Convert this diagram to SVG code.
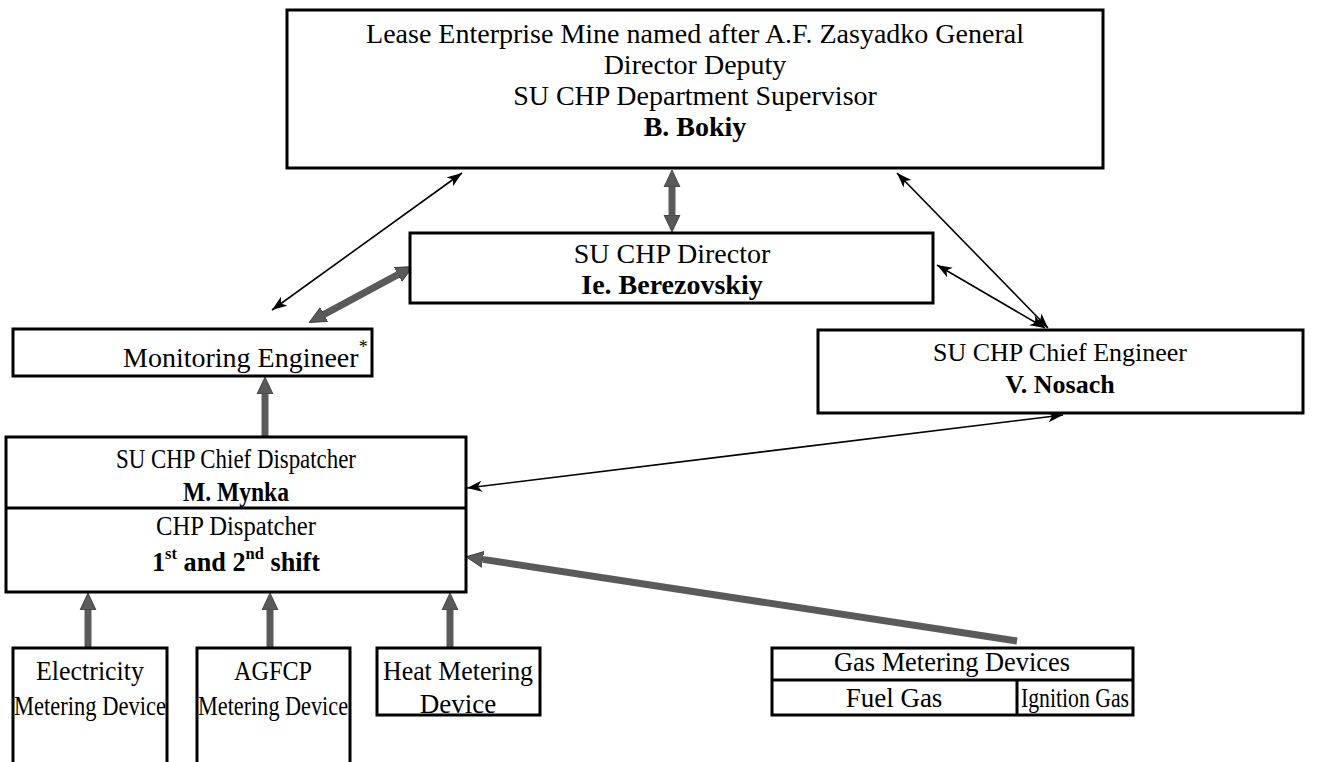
<svg xmlns="http://www.w3.org/2000/svg" width="1323" height="762" viewBox="0 0 1323 762">
<defs>
<style>
.box{fill:#fff;stroke:#000;stroke-width:3}
.t{font-family:"Liberation Serif","Times New Roman",serif;font-size:27px;fill:#000;text-anchor:middle}
.big{font-size:28px}
.mid{font-size:26px}
.b{font-weight:bold}
.thin{stroke:#000;stroke-width:1.6;fill:none;marker-start:url(#ah);marker-end:url(#ah)}
.thick{stroke:#5a5a5a;stroke-width:7;fill:none;marker-end:url(#th)}
.thick2{marker-start:url(#th)}
.div{stroke:#000;stroke-width:3}
</style>
<marker id="ah" viewBox="-15 -6 16 12" refX="0" refY="0" markerWidth="16" markerHeight="12" markerUnits="userSpaceOnUse" orient="auto-start-reverse">
<path d="M0,0 L-15,-5.5 L-11,0 L-15,5.5 z" fill="#000"/>
</marker>
<marker id="th" viewBox="0 -9 18 18" refX="0" refY="0" markerWidth="18" markerHeight="18" markerUnits="userSpaceOnUse" orient="auto-start-reverse">
<path d="M0,-8 L17,0 L0,8 z" fill="#5a5a5a" stroke="#333" stroke-width="0.8"/>
</marker>
</defs>
<rect width="1323" height="762" fill="#fff"/>
<g id="connectors">
<line class="thin" x1="462" y1="173" x2="272" y2="310"/>
<line class="thin" x1="897" y1="173" x2="1048" y2="328"/>
<line class="thin" x1="937" y1="265" x2="1045" y2="328"/>
<line class="thin" x1="1063" y1="415" x2="467" y2="488"/>
<line class="thick thick2" x1="672" y1="187" x2="672" y2="215"/>
<line class="thick thick2" x1="397.9" y1="274.6" x2="324.1" y2="314.4"/>
<line class="thick" x1="265" y1="437" x2="265" y2="394"/>
<line class="thick" x1="88" y1="648" x2="88" y2="610"/>
<line class="thick" x1="270" y1="648" x2="270" y2="610"/>
<line class="thick" x1="450" y1="648" x2="450" y2="610"/>
<line class="thick" x1="1017" y1="641" x2="482.8" y2="559.4"/>
</g>
<g id="top">
<rect class="box" x="287" y="10" width="816" height="158"/>
<text class="t big" x="695" y="43">Lease Enterprise Mine named after A.F. Zasyadko General</text>
<text class="t big" x="695" y="74">Director Deputy</text>
<text class="t big" x="695" y="105">SU CHP Department Supervisor</text>
<text class="t big b" x="695" y="136">B. Bokiy</text>
</g>
<g id="director">
<rect class="box" x="410" y="233" width="523" height="70"/>
<text class="t big" x="672" y="263">SU CHP Director</text>
<text class="t big b" x="672" y="294">Ie. Berezovskiy</text>
</g>
<g id="monitoring">
<rect class="box" x="13" y="329" width="359" height="47"/>
<text class="t big" x="123" y="367" style="text-anchor:start">Monitoring Engineer<tspan font-size="18" dy="-14">*</tspan></text>
</g>
<g id="chief-engineer">
<rect class="box" x="818" y="330" width="485" height="83"/>
<text class="t mid" x="1060" y="361">SU CHP Chief Engineer</text>
<text class="t mid b" x="1060" y="393">V. Nosach</text>
</g>
<g id="dispatcher">
<rect class="box" x="6" y="437" width="460" height="155"/>
<line class="div" x1="6" y1="508" x2="466" y2="508"/>
<text class="t" x="236" y="468" textLength="240" lengthAdjust="spacingAndGlyphs">SU CHP Chief Dispatcher</text>
<text class="t b" x="236" y="501" textLength="106" lengthAdjust="spacingAndGlyphs">M. Mynka</text>
<text class="t" x="236" y="535" textLength="160" lengthAdjust="spacingAndGlyphs">CHP Dispatcher</text>
<text class="t b" x="236" y="571" textLength="168" lengthAdjust="spacingAndGlyphs">1<tspan font-size="17" dy="-12">st</tspan><tspan dy="12"> and 2</tspan><tspan font-size="17" dy="-12">nd</tspan><tspan dy="12"> shift</tspan></text>
</g>
<g id="electricity">
<rect class="box" x="13" y="648" width="154" height="130"/>
<text class="t" x="90" y="680" textLength="108" lengthAdjust="spacingAndGlyphs">Electricity</text>
<text class="t" x="90" y="715" textLength="152" lengthAdjust="spacingAndGlyphs">Metering Device</text>
</g>
<g id="agfcp">
<rect class="box" x="197" y="648" width="153" height="130"/>
<text class="t" x="273" y="680" textLength="78" lengthAdjust="spacingAndGlyphs">AGFCP</text>
<text class="t" x="273" y="715" textLength="150" lengthAdjust="spacingAndGlyphs">Metering Device</text>
</g>
<g id="heat">
<rect class="box" x="377" y="648" width="163" height="67"/>
<text class="t" x="458" y="680" textLength="150" lengthAdjust="spacingAndGlyphs">Heat Metering</text>
<text class="t" x="458" y="713">Device</text>
</g>
<g id="gas">
<rect class="box" x="772" y="648" width="361" height="67"/>
<line class="div" x1="772" y1="680" x2="1133" y2="680"/>
<line class="div" x1="1017" y1="680" x2="1017" y2="715"/>
<text class="t" x="952" y="671" textLength="236" lengthAdjust="spacingAndGlyphs">Gas Metering Devices</text>
<text class="t" x="894" y="707">Fuel Gas</text>
<text class="t" x="1075" y="707" textLength="108" lengthAdjust="spacingAndGlyphs">Ignition Gas</text>
</g>
</svg>
